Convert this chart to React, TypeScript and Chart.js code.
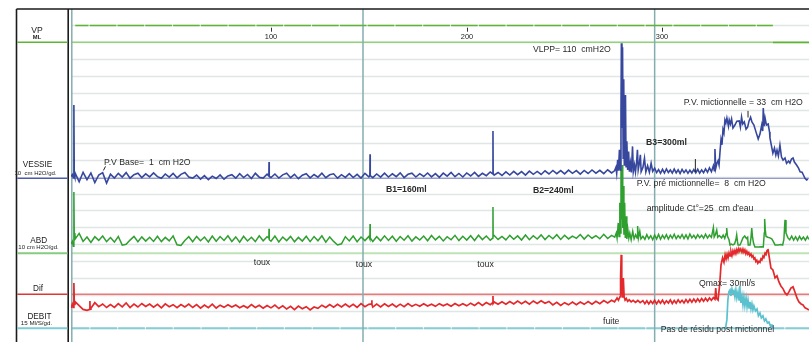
import { useEffect, useRef } from "react";
import { Chart, registerables } from "chart.js";

Chart.register(...registerables);

// ---------- axis / layout reference values ----------
const volumeTicks = [100, 200, 300]; // ml
const eventMarksMl = [147.0, 296.0]; // vertical event markers (ml)
const gridRows = [-1, 0, 1, 2, 3, 4, 5, 6, 7, 8, 9, 10, 11, 12, 13, 14, 15, 16, 17];

// ---------- filling phase sampling (ml infused) ----------
const fillingMl = [
  0, 2, 4, 6, 8, 10, 12, 14, 16, 18,
  20, 22, 24, 26, 28, 30, 32, 34, 36, 38,
  40, 42, 44, 46, 48, 50, 52, 54, 56, 58,
  60, 62, 64, 66, 68, 70, 72, 74, 76, 78,
  80, 82, 84, 86, 88, 90, 92, 94, 96, 98,
  100, 102, 104, 106, 108, 110, 112, 114, 116, 118,
  120, 122, 124, 126, 128, 130, 132, 134, 136, 138,
  140, 142, 144, 146, 148, 150, 152, 154, 156, 158,
  160, 162, 164, 166, 168, 170, 172, 174, 176, 178,
  180, 182, 184, 186, 188, 190, 192, 194, 196, 198,
  200, 202, 204, 206, 208, 210, 212, 214, 216, 218,
  220, 222, 224, 226, 228, 230, 232, 234, 236, 238,
  240, 242, 244, 246, 248, 250, 252, 254, 256, 258,
  260, 262, 264, 266, 268, 270, 272, 274,
];

// VESSIE pressure (cm H2O) on fillingMl
const vessieFill = [
  3.0, -2.0, 3.6, -0.8, 3.2, -2.5, 2.0, 3.4, -2.8, 2.5,
  0.2, 3.0, 0.8, 3.4, 0.1, 2.2, 3.1, 0.5, 2.7, 0.9,
  3.2, 1.0, 0.0, 2.6, 0.7, 3.0, 0.3, 2.4, 3.5, 0.8,
  0.2, 2.0, -0.4, 1.6, -0.8, 1.3, -0.1, 2.0, -0.5, 1.4,
  2.2, 0.1, 2.8, 0.5, 2.3, -0.1, 3.0, 0.7, 0.2, 2.5,
  0.5, 2.6, 0.2, 2.1, 3.0, 0.4, 2.4, -0.2, 1.9, 2.8,
  0.3, 2.3, 0.7, 3.1, 0.4, 2.1, 2.7, 0.1, 2.2, 0.6,
  2.8, 0.5, 2.4, 0.2, 3.0, 0.9, 0.4, 2.6, 0.7, 3.1,
  0.8, 2.7, 1.0, 3.3, 0.5, 2.4, 3.1, 0.8, 2.8, 1.1,
  3.2, 0.9, 2.8, 0.6, 3.1, 1.3, 3.5, 1.0, 2.9, 0.8,
  3.2, 1.4, 3.5, 1.2, 3.0, 1.6, 3.8, 1.9, 3.5, 1.7,
  3.9, 2.0, 4.2, 2.2, 4.0, 1.9, 4.3, 2.4, 4.1, 2.3,
  4.5, 2.6, 4.7, 2.8, 4.6, 2.7, 4.9, 3.0, 4.6, 2.5,
  4.7, 2.9, 5.0, 3.1, 4.8, 2.8, 5.1, 3.2,
];

// ABD pressure (cm H2O) on fillingMl
const abdFill = [
  8.5, 11.8, 7.0, 9.6, 6.4, 9.8, 7.6, 10.2, 6.9, 9.3,
  6.6, 9.9, 4.8, 5.3, 7.8, 10.0, 6.8, 9.7, 7.2, 9.5,
  7.0, 10.1, 6.9, 9.4, 7.3, 10.3, 5.0, 4.6, 7.5, 9.8,
  6.8, 10.0, 7.4, 9.6, 6.7, 10.2, 7.1, 9.9, 7.6, 10.4,
  7.0, 9.7, 6.6, 10.1, 7.3, 9.5, 6.9, 10.3, 7.4, 9.8,
  7.1, 10.2, 6.7, 9.6, 7.5, 10.0, 6.8, 9.4, 7.2, 10.1,
  6.9, 9.9, 7.4, 10.3, 6.6, 9.7, 7.0, 4.9, 5.6, 9.8,
  7.3, 10.2, 6.8, 9.6, 7.5, 10.0, 7.0, 9.8, 7.4, 10.3,
  7.6, 10.1, 7.1, 9.9, 7.7, 10.4, 7.2, 9.7, 7.8, 10.2,
  7.4, 10.5, 7.9, 10.0, 7.3, 9.8, 8.0, 10.6, 7.5, 10.1,
  7.8, 10.4, 7.6, 10.7, 8.1, 10.2, 7.7, 10.5, 8.2, 10.0,
  7.9, 10.6, 8.3, 10.3, 7.8, 10.8, 8.0, 10.4, 8.4, 10.9,
  8.1, 10.5, 8.6, 11.0, 8.2, 10.7, 8.5, 10.2, 8.8, 11.1,
  8.4, 10.8, 8.9, 10.4, 8.6, 11.2, 8.7, 10.6,
];

// Dif pressure (cm H2O) on fillingMl
const difFill = [
  -4.5, -6.8, -9.0, -9.6, -8.4, -5.0, -7.4, -5.8, -7.9, -6.2,
  -7.8, -5.6, -7.5, -5.2, -7.9, -5.9, -7.6, -5.5, -7.3, -5.8,
  -7.7, -6.0, -8.1, -5.7, -7.4, -6.2, -8.0, -6.1, -7.6, -5.9,
  -7.9, -6.2, -8.3, -6.4, -8.0, -5.9, -8.2, -6.5, -7.8, -6.3,
  -7.6, -6.4, -8.0, -6.8, -8.1, -6.2, -7.9, -6.6, -8.3, -6.7,
  -8.1, -6.5, -8.5, -6.9, -8.8, -7.2, -9.2, -7.0, -8.6, -7.4,
  -9.3, -7.6, -8.4, -6.5, -7.9, -6.1, -7.7, -6.0, -7.5, -5.8,
  -7.6, -6.0, -7.8, -5.6, -7.4, -6.0, -7.7, -5.9, -7.5, -5.7,
  -7.3, -5.8, -7.6, -5.9, -7.4, -5.6, -7.2, -6.0, -7.1, -5.7,
  -7.0, -5.9, -7.2, -5.6, -6.9, -5.8, -7.1, -5.5, -6.8, -5.7,
  -6.9, -5.3, -6.7, -5.0, -6.6, -4.9, -6.2, -4.6, -6.0, -4.5,
  -5.9, -4.3, -5.8, -4.1, -5.6, -4.2, -5.9, -4.0, -5.5, -3.9,
  -5.4, -4.3, -6.4, -4.8, -6.6, -5.0, -6.3, -4.7, -6.2, -4.6,
  -6.0, -4.4, -5.9, -4.2, -5.6, -3.8, -5.2, -3.6,
];

// ---------- detailed events [ml, value] ----------
const vessieDetail: [number, number][] = [
  [-2.1, 1.0], [-1.5, 2.2], [-1.0, 0.4], [-0.75, 1.5], [-0.64, 43.6], [-0.5, 1.8], [-0.2, 0.6],
  [98.9, 1.4], [99, 9.7], [99.1, 1.2],
  [150.5, 1.5], [150.6, 14.4], [150.7, 1.6],
  [213.3, 2.6], [213.4, 28.1], [213.5, 2.9],
  [275.5, 4.5], [276.2, 6.5], [276.6, 3.0], [277.1, 11], [277.5, 4.5], [278.0, 17], [278.4, 5],
  [278.8, 40], [279.0, 80.4], [279.3, 30], [279.6, 78], [279.9, 12], [280.2, 59], [280.5, 8],
  [280.8, 35], [281.1, 49.5], [281.4, 7], [281.8, 22], [282.2, 5], [282.7, 16], [283.1, 4],
  [283.6, 9], [284.1, 3.5], [284.7, 19], [285.1, 4], [285.7, 8], [286.2, 3.8], [286.8, 10],
  [287.2, 17], [287.6, 5], [288.2, 9], [288.7, 14], [289.1, 4],
  [290, 6.5], [290.8, 12], [291.5, 3.8], [292.4, 7.5], [293.3, 3.6], [294.2, 9], [295, 4.2],
  [296, 6.0], [297, 3.4], [298, 5.2], [299, 3.0], [300, 5.4], [301, 3.2], [302, 5.6], [303, 3.5],
  [304, 5.0], [305, 3.1], [306, 5.5], [307, 3.3], [308, 5.1], [309, 2.9], [310, 5.3], [311, 3.4],
  [312, 5.0], [313, 3.0], [314, 4.8], [315, 3.2], [316, 5.2], [317, 3.3], [318, 5.4], [319, 3.1],
  [320, 5.0], [321, 3.4], [322, 5.6], [323, 3.6], [324, 6.2], [325, 4.0], [326, 7.5], [326.5, 4.5],
  [326.8, 17.4], [327.2, 6], [327.8, 9], [328.4, 10.5], [328.9, 8], [329.4, 16], [329.9, 23],
  [330.4, 20], [330.9, 29], [331.4, 27], [331.9, 34.7], [332.4, 33],
  [332.9, 35.8], [333.7, 31], [334.1, 34.7], [334.7, 32.3], [335.3, 35.3], [336.0, 29.9],
  [337.0, 31.7], [338.0, 34], [339.2, 34.2], [339.8, 30.5], [340.4, 36.4], [341.0, 32.3],
  [341.8, 33.6], [342.7, 29.3], [343.5, 30.5], [344.2, 34], [345.0, 36.3], [345.7, 33.5],
  [346.7, 31.7], [347.8, 27.5], [348.9, 23.4], [349.8, 26.3], [350.7, 31.7], [351.2, 28.1],
  [351.5, 41.8], [351.9, 31], [352.4, 35.9], [353.1, 31.7], [354.0, 32.3], [354.7, 27.5],
  [354.9, 24], [355.7, 19.2], [356.4, 15], [357.2, 18], [357.9, 13.9], [358.5, 16.8],
  [359.2, 13.3], [360.0, 19.8], [360.8, 12.7], [361.6, 10.9], [362.6, 12.1], [363.4, 8.9],
  [364.4, 10.3], [365.1, 9.1], [365.9, 11.5], [366.7, 12.1], [367.4, 9.7], [368.5, 7.9],
  [369.5, 6.1], [370.3, 3.9], [371.3, 3.7], [372.0, 2.0], [372.8, 0], [373.6, -1], [374.3, -0.4],
];

const abdDetail: [number, number][] = [
  [-2.1, 5.5], [-1.5, 7.0], [-1.0, 4.2], [-0.75, 6.0], [-0.64, 36.4], [-0.5, 9.0], [-0.2, 12.0],
  [98.9, 9.0], [99, 14.5], [99.1, 8.0],
  [150.5, 8.5], [150.6, 17.4], [150.7, 9.0],
  [213.3, 9.0], [213.4, 27.5], [213.5, 10.0],
  [275.6, 9.5], [276.4, 12], [276.8, 9], [277.4, 18], [277.8, 10], [278.2, 30], [278.5, 12],
  [278.8, 49.5], [279.1, 20], [279.4, 52.5], [279.7, 15], [280.0, 40], [280.3, 11], [280.7, 30],
  [281.0, 9], [281.4, 22], [281.8, 8.5], [282.3, 14], [282.8, 9], [283.3, 12], [284, 8],
  [284.8, 13], [285.5, 8.6], [286.3, 11], [287.0, 9], [287.3, 16.2], [287.7, 9], [288.4, 13], [289, 8.5],
  [290, 10.0], [291, 8.2], [292, 11.0], [293, 8.6], [294, 10.4], [295, 8.0], [296, 10.8], [297, 8.5],
  [298, 11.2], [299, 8.3], [300, 10.6], [301, 8.8], [302, 11.0], [303, 8.4], [304, 10.7], [305, 8.9],
  [306, 11.3], [307, 8.6], [308, 10.5], [309, 9.0], [310, 11.1], [311, 8.7], [312, 10.9], [313, 8.5],
  [314, 11.4], [315, 9.1], [316, 10.6], [317, 8.8], [318, 11.0], [319, 9.2], [320, 10.7], [321, 8.9],
  [322, 11.3], [323, 9.0], [324, 10.8], [325, 9.4], [326, 15.2], [326.4, 9.6], [327, 11.0],
  [327.7, 13.8], [328.2, 9.5], [329, 10.5], [330.2, 9.1], [331, 10.8], [331.8, 8.8], [332.5, 11.5],
  [332.8, 15.0], [333.2, 10.0], [334.0, 8.0], [334.5, 4.9], [335.2, 5.4], [336.0, 4.9], [336.8, 5.5],
  [337.5, 8.0], [337.9, 10.9], [338.3, 7.0], [338.6, 4.9], [339.6, 4.9], [340.2, 6.5], [341.1, 9.1],
  [342, 10.2], [342.9, 8.7], [343.5, 9.5], [343.8, 4.9], [344.7, 4.9], [345.2, 9.0], [345.6, 15.0],
  [346.0, 9.5], [346.5, 6.0], [347.2, 3.7], [349, 3.7], [350.5, 3.9], [351.5, 3.7], [352.0, 12],
  [352.2, 20.4], [352.5, 14], [352.9, 10.0], [353.8, 9.5], [354.9, 9.1], [355.8, 8.5], [356.6, 7.0],
  [357.5, 4.9], [359, 4.9], [360.5, 5.2], [361.4, 4.9], [362.0, 8], [362.6, 19.8], [363.1, 12],
  [364.1, 9.1], [365, 8.0], [366, 10.2], [367, 7.8], [368, 9.8], [369, 7.6], [370, 10.0], [371, 8.1],
  [372, 9.6], [373, 7.7], [374, 9.9], [374.8, 8.2],
];

const difDetail: [number, number][] = [
  [-2.1, -8.1], [-1.5, -6.0], [-1.0, -7.8], [-0.75, -5.5], [-0.64, 6.7], [-0.5, -4.0], [-0.2, -6.5],
  [7.4, -9.0], [7.5, -4.0], [7.6, -8.8],
  [151.4, -5.8], [151.5, -3.6], [151.6, -6.0],
  [213.3, -5.0], [213.4, -1.0], [213.5, -5.5],
  [275.5, -4.5], [276.3, -3.2], [276.8, -2.2], [277.5, -3.5], [278.3, -1.5], [278.6, 10],
  [278.9, 23.4], [279.2, 5], [279.6, -2], [280.0, 9.7], [280.4, -1.5], [280.9, -3.5], [281.5, -2.5],
  [282.2, -4.2], [283, -3.3], [284, -4.5], [285, -3.6], [286.2, -4.8], [287.4, -3.7], [288.6, -5.0],
  [290, -3.8], [291, -5.6], [292, -3.9], [293, -5.8], [294, -4.0], [295, -5.5], [296, -3.6],
  [297, -5.7], [298, -3.8], [299, -5.4], [300, -3.5], [301, -5.6], [302, -3.9], [303, -5.2],
  [304, -3.4], [305, -5.5], [306, -3.7], [307, -5.3], [308, -3.3], [309, -5.0], [310, -3.6],
  [311, -5.2], [312, -3.2], [313, -4.9], [314, -3.0], [315, -4.7], [316, -2.9], [317, -4.6],
  [318, -2.7], [319, -4.4], [320, -2.5], [321, -4.2], [322, -2.4], [323, -4.0], [324, -2.2],
  [325, -3.6], [326, -2.0], [326.8, -3.0], [327.2, 3.7], [327.6, -2.4], [328.4, -3.4],
  [329.2, 5.5], [329.9, 17.4], [330.7, 21.6], [331.4, 19.0], [332.0, 23.5], [332.5, 21.0],
  [333.0, 23.8], [333.5, 21.6], [334.0, 24.6], [334.5, 22.8], [335.0, 25.3], [335.5, 23.0],
  [336.0, 25.8], [336.5, 24.0], [337.0, 26.0], [337.5, 24.2], [338.0, 26.6], [338.5, 25.0],
  [339.0, 27.2], [339.5, 25.6], [340.0, 26.9], [340.6, 25.0], [341.1, 26.8], [341.6, 24.9],
  [342.1, 26.3], [342.6, 24.1], [343.1, 25.6], [343.6, 23.8], [344.1, 24.8], [344.6, 22.9],
  [345.2, 24.0], [345.7, 22.2], [346.2, 23.0], [346.7, 21.0], [347.2, 21.6], [347.7, 19.4],
  [348.2, 20.2], [348.7, 18.4], [349.3, 19.6], [349.8, 19.0], [350.3, 21.0], [350.8, 20.4],
  [351.3, 22.6], [351.8, 21.8], [352.4, 24.4], [352.9, 23.6], [353.4, 26.0], [353.9, 26.9],
  [354.6, 21.6], [355.4, 15.6], [356.4, 14.4], [357.0, 12.0], [357.5, 9.7], [358.5, 10.9],
  [359.5, 7.3], [360.5, 4.9], [361.6, 3.2], [362.6, 0.8], [363.6, -0.4], [364.6, 1.4],
  [365.6, 3.7], [366.7, 4.5], [367.7, 1.2], [368.7, -2.2], [369.7, -4.6], [370.8, -5.8],
  [371.8, -6.4], [372.8, -8.1], [373.8, -8.7], [374.8, -9.3],
];

// DEBIT flow (ml/s)
const debitFlow: [number, number][] = [
  [332.2, 0], [332.9, 7.4], [333.4, 25], [333.9, 32.4], [334.5, 34.2], [335.0, 28.8], [335.5, 35],
  [336.0, 31.5], [336.5, 33.3], [337.0, 27.9], [337.5, 34.2], [338.0, 27], [338.6, 32.4],
  [339.1, 25.2], [339.5, 32.4], [339.6, 37.6], [339.7, 30], [340.1, 22.6], [340.6, 28.8],
  [341.1, 20.8], [341.6, 27.9], [342.1, 19.9], [342.7, 27], [343.2, 19], [343.7, 25.2],
  [344.2, 18.1], [344.7, 23.5], [345.2, 17.2], [345.7, 21.7], [346.2, 16.3], [346.7, 19.9],
  [347.5, 15.4], [348.3, 17.2], [349.0, 11], [349.8, 13.6], [350.5, 9.2], [351.3, 11],
  [352.1, 6.5], [352.8, 8.3], [353.6, 4.7], [354.4, 5.6], [355.1, 2.1], [355.9, 2.9], [356.4, 0],
];

// VP (pump) channel
const vpFilling: [number, number][] = [[0, 1], [356.4, 1]];
const vpStopped: [number, number][] = [[356.4, 0], [374.85, 0]];

// ---------- channel layout (grid row of zero, units per grid) ----------
const ROW_MIN = -1.98;
const ROW_MAX = 17.82;
const channels = [
  { id: "yVp", row: 0, perGrid: 1, panelColor: "#5db534", plotColor: "#93d17c", w: 1.5 },
  { id: "yVes", row: 8.09, perGrid: 10, panelColor: "#4d5aa9", plotColor: "#959bcd", w: 1.3 },
  { id: "yAbd", row: 12.54, perGrid: 10, panelColor: "#86cb7f", plotColor: "#bde2b5", w: 2 },
  { id: "yDif", row: 14.98, perGrid: 10, panelColor: "#e03535", plotColor: "#f07575", w: 1.3 },
  { id: "yDeb", row: 17.0, perGrid: 15, panelColor: "#7fcbd6", plotColor: "#86cdd8", w: 2 },
];

const annotations = [
  { t: "P.V Base=  1  cm H2O", ml: 14.7, row: 7.18, bold: false, align: "left" },
  { t: "VLPP= 110  cmH2O", ml: 233.8, row: 0.42, bold: false, align: "left" },
  { t: "P.V. mictionnelle = 33  cm H2O", ml: 310.9, row: 3.59, bold: false, align: "left" },
  { t: "B3=300ml", ml: 291.6, row: 5.945, bold: true, align: "left" },
  { t: "B1=160ml", ml: 158.7, row: 8.74, bold: true, align: "left" },
  { t: "B2=240ml", ml: 233.8, row: 8.81, bold: true, align: "left" },
  { t: "P.V. pré mictionnelle=  8  cm H2O", ml: 286.8, row: 8.395, bold: false, align: "left" },
  { t: "amplitude Ct°=25  cm d'eau", ml: 291.9, row: 9.88, bold: false, align: "left" },
  { t: "toux", ml: 95.4, row: 13.12, bold: false, align: "center" },
  { t: "toux", ml: 147.5, row: 13.2, bold: false, align: "center" },
  { t: "toux", ml: 209.6, row: 13.2, bold: false, align: "center" },
  { t: "fuite", ml: 269.6, row: 16.61, bold: false, align: "left" },
  { t: "Qmax= 30ml/s", ml: 318.6, row: 14.33, bold: false, align: "left" },
  { t: "Pas de résidu post mictionnel", ml: 299.1, row: 17.08, bold: false, align: "left" },
];

const markerTicks = [
  { ml0: 14.4, r0: 7.62, ml1: 15.45, r1: 7.38 },
  { ml0: 316.8, r0: 6.94, ml1: 316.8, r1: 7.71 },
  { ml0: 343.7, r0: 4.08, ml1: 343.7, r1: 4.47 },
];

const panelLabels = [
  { t: "VP", x: 37, y: 30.7, size: 8.6, bold: false },
  { t: "ML", x: 37, y: 37, size: 5.8, bold: true },
  { t: "VESSIE", x: 37.5, y: 164.7, size: 8.2, bold: false },
  { t: "10  cm H2O/gd.", x: 35.5, y: 173.2, size: 6.0, bold: false },
  { t: "ABD", x: 38.7, y: 240.5, size: 8.2, bold: false },
  { t: "10 cm H2O/gd.", x: 38.5, y: 247.7, size: 6.0, bold: false },
  { t: "Dif", x: 38, y: 289.2, size: 8.2, bold: false },
  { t: "DEBIT", x: 39.5, y: 316.3, size: 8.2, bold: false },
  { t: "15 Ml/S/gd.", x: 36.5, y: 323.5, size: 6.2, bold: false },
];

const FONT = '"Liberation Sans", Arial, Helvetica, sans-serif';

function merge(xs: number[], ys: number[], extra: [number, number][]) {
  const pts = xs.map((x, i) => ({ x, y: ys[i] }));
  extra.forEach(([x, y]) => pts.push({ x, y }));
  pts.sort((a, b) => a.x - b.x);
  return pts;
}
const pairs = (arr: [number, number][]) => arr.map(([x, y]) => ({ x, y }));

const overlay = {
  id: "overlay",
  beforeDatasetsDraw(chart: any) {
    const { ctx, chartArea: a, scales } = chart;
    const g = scales.yGrid;
    const xs = scales.x;
    ctx.save();
    ctx.strokeStyle = "#dfe6e5";
    ctx.lineWidth = 1.5;
    gridRows.forEach((r) => {
      const y = Math.round(g.getPixelForValue(r)) + 0.5;
      ctx.beginPath();
      ctx.moveTo(a.left, y);
      ctx.lineTo(a.right, y);
      ctx.stroke();
    });
    channels.forEach((c) => {
      const y = scales[c.id].getPixelForValue(0);
      ctx.strokeStyle = c.plotColor;
      ctx.lineWidth = c.w;
      if (c.id === "yDeb") {
        ctx.setLineDash([26.7, 1.1]);
        ctx.lineDashOffset = 8.4;
      } else ctx.setLineDash([]);
      ctx.beginPath();
      ctx.moveTo(a.left, y);
      ctx.lineTo(c.id === "yVp" ? xs.getPixelForValue(356.4) : a.right, y);
      ctx.stroke();
    });
    ctx.setLineDash([]);
    ctx.strokeStyle = "#84adb0";
    ctx.lineWidth = 1.5;
    [a.left + 0.8, ...eventMarksMl.map((m) => xs.getPixelForValue(m))].forEach((px) => {
      ctx.beginPath();
      ctx.moveTo(px, a.top);
      ctx.lineTo(px, a.bottom);
      ctx.stroke();
    });
    ctx.restore();
  },
  afterDatasetsDraw(chart: any) {
    const { ctx, chartArea: a, scales } = chart;
    const g = scales.yGrid;
    const xs = scales.x;
    ctx.save();
    ctx.strokeStyle = "#1b1b1b";
    ctx.lineWidth = 1.6;
    ctx.beginPath();
    ctx.moveTo(16.5, a.top);
    ctx.lineTo(a.right, a.top);
    ctx.moveTo(16.5, a.top);
    ctx.lineTo(16.5, a.bottom);
    ctx.moveTo(68.2, a.top);
    ctx.lineTo(68.2, a.bottom);
    ctx.stroke();
    channels.forEach((c) => {
      const y = scales[c.id].getPixelForValue(0);
      ctx.strokeStyle = c.panelColor;
      ctx.lineWidth = c.id === "yAbd" || c.id === "yDeb" ? 2 : 1.5;
      ctx.beginPath();
      ctx.moveTo(17.3, y);
      ctx.lineTo(67.5, y);
      ctx.stroke();
    });
    ctx.fillStyle = "#222";
    ctx.textBaseline = "middle";
    ctx.textAlign = "center";
    panelLabels.forEach((l) => {
      ctx.font = `${l.bold ? "bold " : ""}${l.size}px ${FONT}`;
      ctx.fillText(l.t, l.x, l.y);
    });
    ctx.strokeStyle = "#333";
    ctx.lineWidth = 1;
    ctx.font = `7.4px ${FONT}`;
    volumeTicks.forEach((v) => {
      const px = Math.round(xs.getPixelForValue(v)) + 0.5;
      ctx.beginPath();
      ctx.moveTo(px, g.getPixelForValue(-0.87));
      ctx.lineTo(px, g.getPixelForValue(-0.63));
      ctx.stroke();
      ctx.fillText(String(v), px - 0.5, g.getPixelForValue(-0.3));
    });
    ctx.strokeStyle = "#222";
    markerTicks.forEach((m) => {
      ctx.beginPath();
      ctx.moveTo(xs.getPixelForValue(m.ml0), g.getPixelForValue(m.r0));
      ctx.lineTo(xs.getPixelForValue(m.ml1), g.getPixelForValue(m.r1));
      ctx.stroke();
    });
    ctx.fillStyle = "#2a2a2a";
    annotations.forEach((n) => {
      ctx.font = `${n.bold ? "bold " : ""}8.7px ${FONT}`;
      ctx.textAlign = n.align as CanvasTextAlign;
      ctx.fillText(n.t, xs.getPixelForValue(n.ml), g.getPixelForValue(n.row));
    });
    ctx.restore();
  },
};

export default function App() {
  const ref = useRef<HTMLCanvasElement | null>(null);

  useEffect(() => {
    if (!ref.current) return;
    const chanScale = (c: (typeof channels)[number]) => ({
      type: "linear" as const,
      axis: "y" as const,
      display: false,
      min: (c.row - ROW_MAX) * c.perGrid,
      max: (c.row - ROW_MIN) * c.perGrid,
    });
    const scales: any = {
      x: { type: "linear", display: false, min: -2.17, max: 374.85 },
      yGrid: { type: "linear", axis: "y", display: false, min: ROW_MIN, max: ROW_MAX, reverse: true },
    };
    channels.forEach((c) => (scales[c.id] = chanScale(c)));

    const common = { pointRadius: 0, tension: 0, fill: false, borderJoinStyle: "miter" as const };
    const chart = new Chart(ref.current, {
      type: "line",
      data: {
        datasets: [
          { ...common, data: pairs(debitFlow), yAxisID: "yDeb", borderColor: "#5bc1cf", borderWidth: 1.7 },
          { ...common, data: merge(fillingMl, vessieFill, vessieDetail), yAxisID: "yVes", borderColor: "#36479d", borderWidth: 1.6 },
          { ...common, data: merge(fillingMl, difFill, difDetail), yAxisID: "yDif", borderColor: "#e4292c", borderWidth: 1.7 },
          { ...common, data: merge(fillingMl, abdFill, abdDetail), yAxisID: "yAbd", borderColor: "#2f9f30", borderWidth: 1.5 },
          { ...common, data: pairs(vpFilling), yAxisID: "yVp", borderColor: "#5db534", borderWidth: 1.6, borderDash: [26.7, 1.1], borderDashOffset: 13.4 },
          { ...common, data: pairs(vpStopped), yAxisID: "yVp", borderColor: "#5db534", borderWidth: 1.8 },
        ] as any,
      },
      options: {
        animation: false,
        responsive: false,
        devicePixelRatio: 1,
        layout: { padding: { left: 71, top: 9, right: 0, bottom: 0 } },
        plugins: { legend: { display: false }, tooltip: { enabled: false } },
        scales,
      },
      plugins: [overlay],
    });
    return () => chart.destroy();
  }, []);

  return (
    <div style={{ position: "absolute", left: 0, top: 0, width: 809, height: 342, background: "#fff" }}>
      <canvas ref={ref} width={809} height={342} style={{ display: "block" }} />
    </div>
  );
}
